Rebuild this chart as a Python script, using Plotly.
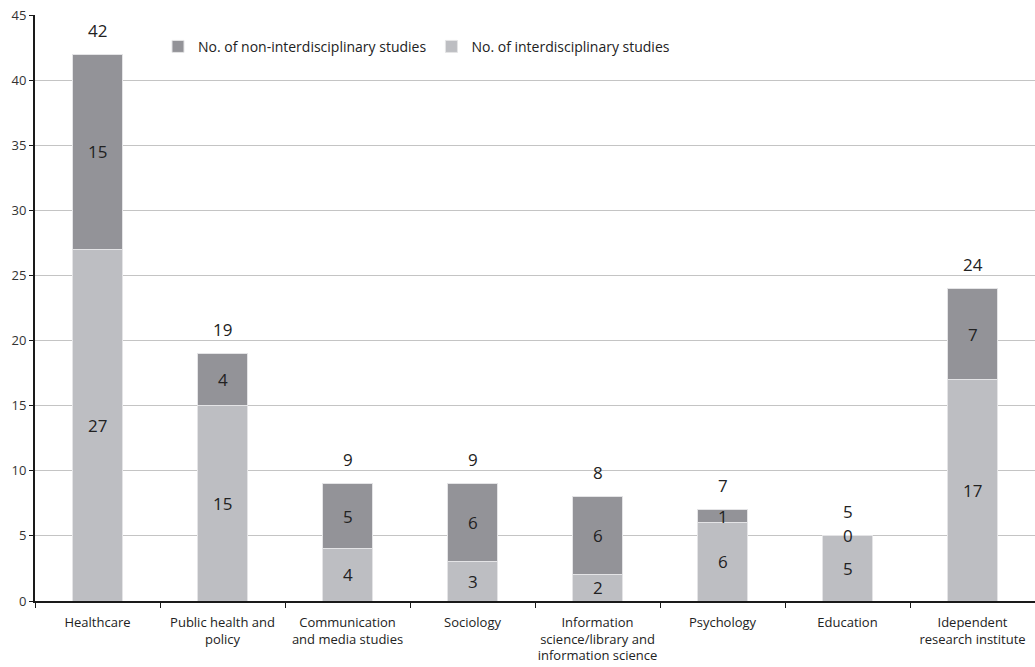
import plotly.graph_objects as go

# Study counts by discipline
categories = [
    "Healthcare",
    "Public health and<br>policy",
    "Communication<br>and media studies",
    "Sociology",
    "Information<br>science/library and<br>information science",
    "Psychology",
    "Education",
    "Idependent<br>research institute",
]
interdisciplinary = [27, 15, 4, 3, 2, 6, 5, 17]
non_interdisciplinary = [15, 4, 5, 6, 6, 1, 0, 7]
totals = [a + b for a, b in zip(interdisciplinary, non_interdisciplinary)]

y_ticks = [0, 5, 10, 15, 20, 25, 30, 35, 40, 45]

COL_LIGHT = "#bdbec2"
COL_DARK = "#939398"
FONT = "'Open Sans', sans-serif"

fig = go.Figure()
fig.add_trace(go.Bar(
    x=categories, y=interdisciplinary, name="No. of interdisciplinary studies",
    marker=dict(color=COL_LIGHT, line=dict(color="#e4e4e6", width=1)),
))
fig.add_trace(go.Bar(
    x=categories, y=non_interdisciplinary, name="No. of non-interdisciplinary studies",
    marker=dict(color=COL_DARK, line=dict(color="#e4e4e6", width=1)),
))

annotations = []
for cat, a, b, t in zip(categories, interdisciplinary, non_interdisciplinary, totals):
    # segment labels centred in each stacked piece
    annotations.append(dict(x=cat, y=a / 2, text=str(a), showarrow=False,
                            font=dict(size=17, color="#222", family=FONT)))
    annotations.append(dict(x=cat, y=a + b / 2, text=str(b), showarrow=False,
                            font=dict(size=17, color="#222", family=FONT)))
    # total above the bar
    annotations.append(dict(x=cat, y=t, text=str(t), showarrow=False, yshift=24,
                            font=dict(size=17, color="#222", family=FONT)))

fig.update_layout(
    barmode="stack",
    bargap=0.6,
    width=1035, height=667,
    margin=dict(l=35, r=0, t=15, b=66, autoexpand=False),
    plot_bgcolor="white", paper_bgcolor="white",
    font=dict(family=FONT, size=12, color="#333"),
    showlegend=True,
    legend=dict(orientation="h", x=0.123, y=0.973, xanchor="left", yanchor="top",
                traceorder="reversed", font=dict(size=14, color="#222"),
                bgcolor="rgba(0,0,0,0)"),
    annotations=annotations,
    xaxis=dict(
        showline=True, linecolor="#1a1a1a", linewidth=2,
        ticks="outside", tickson="boundaries", ticklen=5, tickcolor="#1a1a1a",
        tickfont=dict(size=13, color="#222"), showgrid=False,
        tickangle=0, automargin=False,
        ticklabelstandoff=8,
    ),
    yaxis=dict(
        range=[0, 45], tickvals=y_ticks,
        showline=True, linecolor="#1a1a1a", linewidth=2,
        ticks="outside", ticklen=4, tickcolor="#1a1a1a",
        showgrid=True, gridcolor="#c4c4c4", gridwidth=1,
        tickfont=dict(size=13, color="#333"), zeroline=False,
        automargin=False,
    ),
)

fig.write_html("out.html")
